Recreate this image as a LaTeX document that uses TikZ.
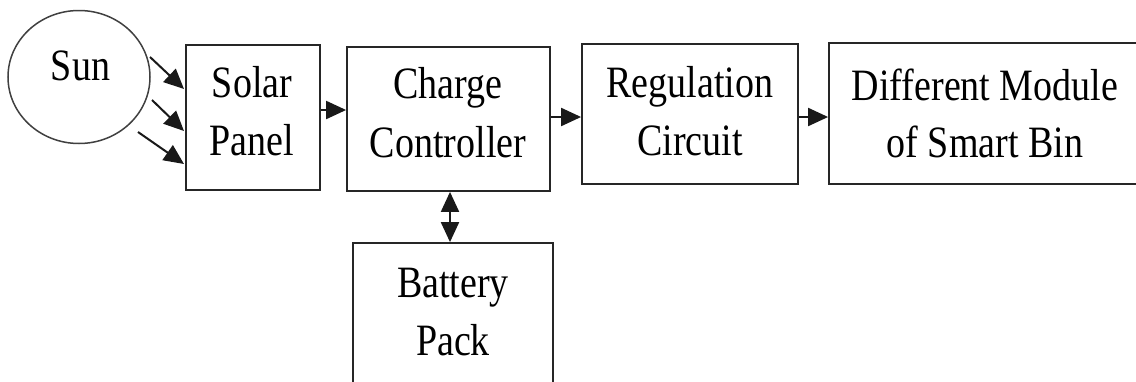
\documentclass[tikz,border=0pt]{standalone}
\usepackage{fontspec}
\setmainfont{Liberation Serif}
\usetikzlibrary{arrows.meta,shapes.geometric}
\tikzset{
  blk/.style={draw=black!85, line width=1.8pt, rectangle, inner sep=0pt},
  sunshape/.style={draw=black!75, line width=1.5pt, ellipse, inner sep=0pt, minimum width=142pt, minimum height=133pt},
  txt/.style={anchor=base, inner sep=0pt, yscale=1.18, font=\fontsize{38}{40}\selectfont},
  tip/.tip={Triangle[length=20pt,width=18pt]},
  arr/.style={line width=2pt, draw=black!90, -tip},
  darr/.style={line width=2pt, draw=black!90, tip-tip}
}
\begin{document}
\begin{tikzpicture}[x=1pt,y=-1pt]
\useasboundingbox (0,0) rectangle (1136,381);
\fill[white] (0,0) rectangle (1136,381);
\clip (0,0) rectangle (1136,381);
% boxes
\node[sunshape] (sun) at (79,77) {};
\node[blk, minimum width=134pt, minimum height=145pt] (solar) at (253,117.5) {};
\node[blk, minimum width=203pt, minimum height=144pt] (charge) at (448.5,119) {};
\node[blk, minimum width=216pt, minimum height=140pt] (reg) at (690,114) {};
\node[blk, minimum width=314pt, minimum height=141pt] (diff) at (986,113.5) {};
\node[blk, minimum width=200pt, minimum height=150pt] (bat) at (453,318) {};
% texts
\node[txt] (tsun) at (80.5,80) {Sun};
\node[txt] (ts1) at (252,97) {Solar};
\node[txt] (ts2) at (252,155) {Panel};
\node[txt] (tc1) at (448,98) {Charge};
\node[txt] (tc2) at (448,157) {Controller};
\node[txt] (tr1) at (690,97) {Regulation};
\node[txt] (tr2) at (690,155) {Circuit};
\node[txt] (td1) at (985,100) {Different Module};
\node[txt] (td2) at (985,157) {of Smart Bin};
\node[txt] (tb1) at (453,297) {Battery};
\node[txt] (tb2) at (453,355) {Pack};
% sun rays
\coordinate (r1s) at (150,57);
\coordinate (r2s) at (152,100);
\coordinate (r3s) at (138,132);
\coordinate (r1e) at (184,89);
\coordinate (r2e) at (184,131);
\coordinate (r3e) at (184,164);
\draw[arr] (r1s) -- (r1e);
\draw[arr] (r2s) -- (r2e);
\draw[arr] (r3s) -- (r3e);
% connectors
\draw[arr] (solar.east |- 0,110) -- (charge.west |- 0,110);
\draw[arr] (charge.east |- 0,117) -- (reg.west |- 0,117);
\draw[arr] (reg.east |- 0,117) -- (diff.west |- 0,117);
\draw[darr] (charge.south -| 450,0) -- (bat.north -| 450,0);
\end{tikzpicture}
\end{document}
